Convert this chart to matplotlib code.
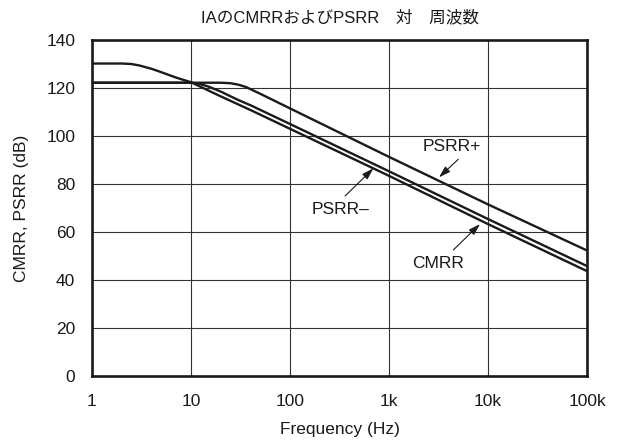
import numpy as np
import matplotlib.pyplot as plt
from matplotlib.ticker import FixedLocator, FixedFormatter, NullLocator

#--------------------------------------------------------------------------------------------------
# Data (dB vs Hz)
psrr_pos_f = [1, 10, 20, 25, 30, 36, 50, 100, 1e3, 1e4, 1e5]
psrr_pos_db = [122.2, 122.2, 122.2, 122.0, 121.4, 120.4, 117.6, 111.5, 91.3, 71.5, 52.3]

psrr_neg_f = [1, 10, 12, 15, 20, 30, 40, 100, 1e3, 1e4, 1e5]
psrr_neg_db = [122.2, 122.2, 121.8, 120.6, 118.5, 115.0, 112.8, 105.0, 85.3, 65.4, 45.8]

cmrr_f = [1, 2, 2.5, 3, 4, 5, 7, 10, 20, 40, 100, 1e3, 1e4, 1e5]
cmrr_db = [130.2, 130.2, 130.0, 129.4, 128.0, 126.6, 124.4, 122.4, 116.5, 110.8, 103.0, 83.4, 63.3, 43.7]

x_ticks = [1, 10, 100, 1e3, 1e4, 1e5]
x_tick_labels = ["1", "10", "100", "1k", "10k", "100k"]
y_ticks = [0, 20, 40, 60, 80, 100, 120, 140]

#--------------------------------------------------------------------------------------------------
# Plot Setup
plt.rcParams['font.family'] = ['Liberation Sans', 'Noto Sans CJK JP', 'DejaVu Sans']
fs = 12.5
ink = '#1a1a1a'

fig = plt.figure(figsize=(6.3, 4.46), dpi=100)
ax = fig.add_axes([92 / 630, 1 - 376 / 446, (587 - 92) / 630, (376 - 40) / 446])

ax.plot(psrr_pos_f, psrr_pos_db, color=ink, lw=1.7, solid_capstyle='butt')
ax.plot(psrr_neg_f, psrr_neg_db, color=ink, lw=1.7, solid_capstyle='butt')
ax.plot(cmrr_f, cmrr_db, color=ink, lw=1.7, solid_capstyle='butt')

ax.set_xscale('log')
ax.set_xlim(1, 1e5)
ax.set_ylim(0, 140)

ax.xaxis.set_major_locator(FixedLocator(x_ticks))
ax.xaxis.set_major_formatter(FixedFormatter(x_tick_labels))
ax.xaxis.set_minor_locator(NullLocator())
ax.set_yticks(y_ticks)

ax.grid(True, which='major', color='#333333', lw=0.8)
ax.tick_params(axis='both', length=0, labelsize=fs, colors=ink)
ax.tick_params(axis='x', pad=13)
ax.tick_params(axis='y', pad=12)

for spine in ax.spines.values():
    spine.set_linewidth(1.9)
    spine.set_color(ink)

ax.set_xlabel("Frequency (Hz)", fontsize=fs, color=ink)
ax.set_ylabel("CMRR, PSRR (dB)", fontsize=fs, color=ink)
ax.xaxis.set_label_coords(0.5, -0.136)
ax.yaxis.set_label_coords(-0.127, 0.5)
fig.text(340 / 630, 1 - 17 / 446, "IAのCMRRおよびPSRR\u3000対\u3000周波数",
         fontsize=12, color=ink, ha='center', va='center')

# Curve labels with arrows
arrow = dict(arrowstyle='-|>,head_length=0.7,head_width=0.22', color=ink, lw=0.8,
             shrinkA=0, shrinkB=0)
ax.text(4330, 95.5, "PSRR+", fontsize=fs, ha='center', va='center', color=ink)
ax.annotate("", xy=(3200, 82.8), xytext=(5010, 90.3), arrowprops=arrow)

ax.text(326, 69.2, "PSRR\u2013", fontsize=fs, ha='center', va='center', color=ink)
ax.annotate("", xy=(695, 86.5), xytext=(360, 75.0), arrowprops=arrow)

ax.text(3110, 47.0, "CMRR", fontsize=fs, ha='center', va='center', color=ink)
ax.annotate("", xy=(8300, 63.3), xytext=(4460, 52.5), arrowprops=arrow)

fig.savefig("out.png", dpi=100)
